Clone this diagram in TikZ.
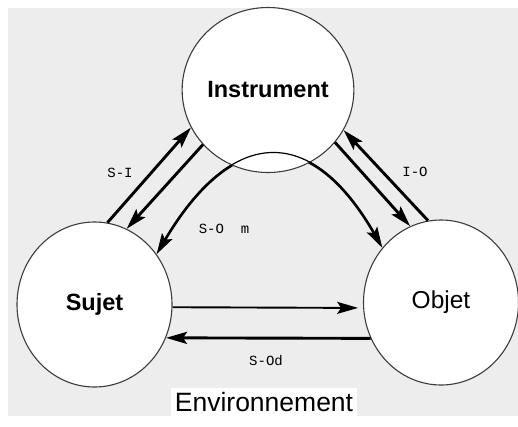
\documentclass[tikz,border=0pt]{standalone}
\usepackage{fontspec}
\setmainfont{Liberation Sans}
\newfontfamily\lblfont{Liberation Mono}
\usetikzlibrary{shapes.geometric,arrows.meta}
\definecolor{bggray}{RGB}{237,237,237}
\definecolor{edgegray}{RGB}{60,60,60}
\begin{document}
\begin{tikzpicture}[x=1pt,y=-1pt,
  agent/.style={ellipse,draw=edgegray,line width=1.1pt,fill=white,
    minimum width=155pt,minimum height=165pt,inner sep=0pt},
  agentbold/.style={font=\fontsize{23.5}{26}\selectfont\bfseries},
  agentreg/.style={font=\fontsize{24.5}{27}\selectfont},
  lbl/.style={font=\lblfont\fontsize{14}{16}\selectfont,inner sep=1pt},
  tipstyle/.tip={Stealth[length=21pt,width=12pt,inset=4pt]},
  rel/.style={line width=2.9pt,-tipstyle},
  relthin/.style={line width=1.9pt,-tipstyle},
  curvethin/.style={line width=1.2pt,tipstyle-tipstyle},
  curvethick/.style={line width=2.6pt,shorten <=14pt,shorten >=14pt}
]
\useasboundingbox (0,0) rectangle (518,426);
\fill[bggray] (8,8) rectangle (518,416);

\node[agent,agentbold] (I) at (268,90) {Instrument};
\node[agent,agentbold] (S) at (94.5,304.5) {Sujet};
\node[agent,agentreg] (O) at (441,302.5) {Objet};

% Sujet <-> Instrument
\draw[rel] (S.81.3) -- (I.206.3);
\draw[rel] (I.220.4) -- (S.67);
% Instrument <-> Objet
\draw[rel] (O.99.9) -- (I.332.8);
\draw[rel] (I.322.4) -- (O.112.5);
% curve S-O m
\draw[curvethin] (S.39.5) .. controls +(75,-128) and +(-71,-125) .. (O.137.7);
\begin{scope}[even odd rule]
  \clip (0,0) rectangle (518,426) (I.center) ellipse [x radius=80pt, y radius=85pt];
  \draw[curvethick] (S.39.5) .. controls +(75,-128) and +(-71,-125) .. (O.137.7);
\end{scope}
% horizontal arrows
\draw[relthin,shorten >=5pt] (S.-2.6) -- (O.184.2);
\draw[rel] (O.207.4) -- (S.-25.3);

% labels
\node[lbl] (lSI) at (120,173) {S-I};
\node[lbl] (lIO) at (415,172) {I-O};
\node[lbl] (lSOm) at (224,229) {S-O\ \ m};
\node[lbl] (lSOd) at (266,361) {S-Od};
\node[fill=white,inner sep=4pt,font=\fontsize{26.5}{30}\selectfont] (env) at (264,402) {Environnement};
\end{tikzpicture}
\end{document}
